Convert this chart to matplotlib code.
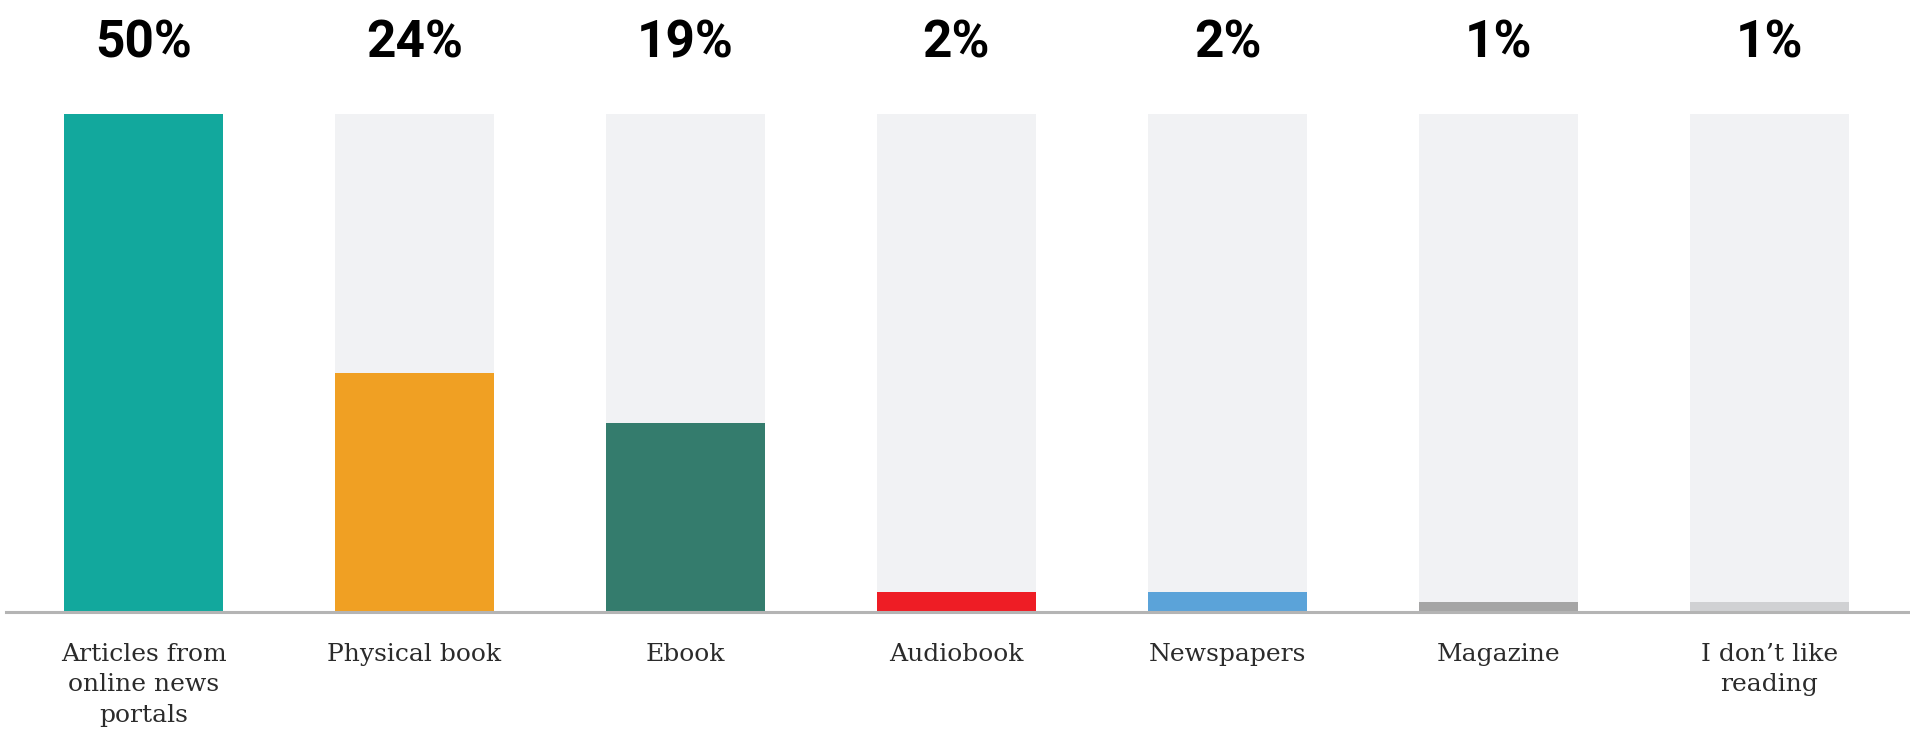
import matplotlib

matplotlib.use("Agg")
import matplotlib.pyplot as plt

categories = [
    "Articles from\nonline news\nportals",
    "Physical book",
    "Ebook",
    "Audiobook",
    "Newspapers",
    "Magazine",
    "I don\u2019t like\nreading",
]
values = [50, 24, 19, 2, 2, 1, 1]
colors = ["#12a89d", "#f0a023", "#347c6d", "#ee1d25", "#5ba3d9", "#a5a5a5", "#d0d1d3"]
value_max = 50

W, H = 1910, 734
fig = plt.figure(figsize=(W / 100, H / 100), dpi=100)

# axes placed in pixel terms: baseline at y=612, bar tops (50%) at y=114
left_px, bottom_px, top_px = 6, 612, 114
ax = fig.add_axes([left_px / W, 1 - bottom_px / H, 1 - left_px / W, (bottom_px - top_px) / H])

step, first_center, bar_w_px = 271, 143.5, 159
x = list(range(len(categories)))
ax.set_xlim((left_px - first_center) / step, (W - first_center) / step)
ax.set_ylim(0, value_max)

bar_w = bar_w_px / step
ax.bar(x, [value_max] * len(x), width=bar_w, color="#f1f2f4", zorder=1)
ax.bar(x, values, width=bar_w, color=colors, zorder=2)

for s in ["top", "left", "right"]:
    ax.spines[s].set_visible(False)
ax.spines["bottom"].set_color("#b4b4b4")
ax.spines["bottom"].set_linewidth(2.2)
ax.spines["bottom"].set_zorder(3)
ax.set_xticks([])
ax.set_yticks([])

for xi, v, label in zip(x, values, categories):
    ax.annotate(f"{v}%", xy=(xi, value_max), xycoords="data",
                xytext=(0, 51), textcoords="offset points",
                ha="center", va="center", fontsize=37, fontweight="bold",
                family="Roboto", color="#000000")
    ax.annotate(label, xy=(xi, 0), xycoords="data",
                xytext=(0, -22), textcoords="offset points",
                ha="center", va="top", fontsize=18, family="DejaVu Serif",
                color="#2b2b2b", linespacing=1.42)

fig.savefig("out.png", dpi=100)
